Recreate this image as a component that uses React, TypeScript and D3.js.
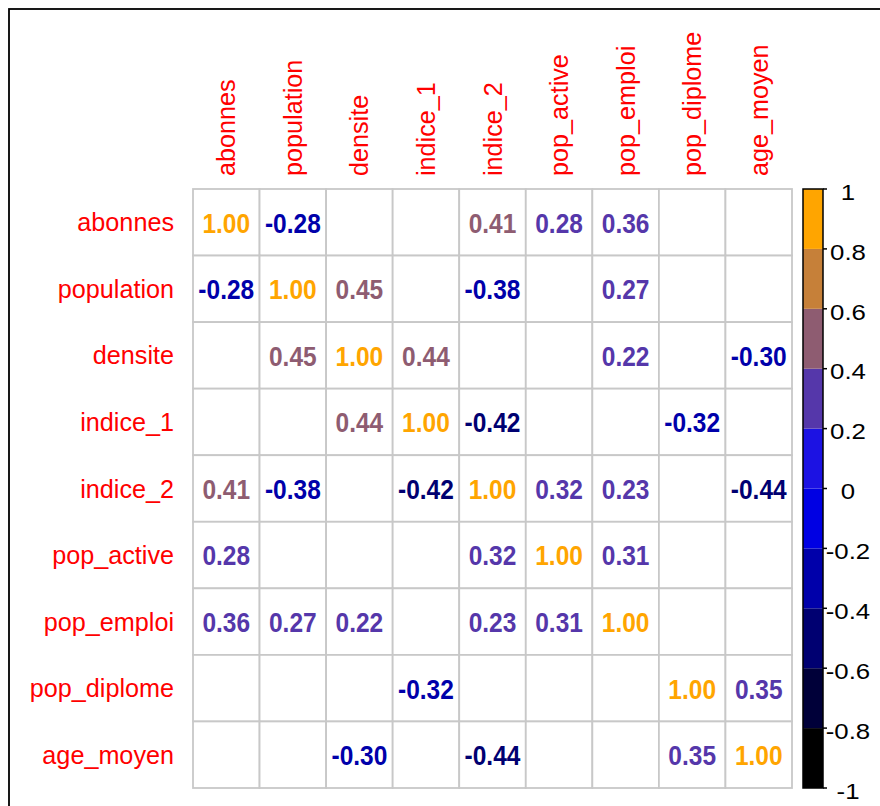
import React from "react";
import * as d3 from "d3";

const variables = ["abonnes", "population", "densite", "indice_1", "indice_2", "pop_active", "pop_emploi", "pop_diplome", "age_moyen"];

const values: (number | null)[][] = [
  [1.0, -0.28, null, null, 0.41, 0.28, 0.36, null, null],
  [-0.28, 1.0, 0.45, null, -0.38, null, 0.27, null, null],
  [null, 0.45, 1.0, 0.44, null, null, 0.22, null, -0.3],
  [null, null, 0.44, 1.0, -0.42, null, null, -0.32, null],
  [0.41, -0.38, null, -0.42, 1.0, 0.32, 0.23, null, -0.44],
  [0.28, null, null, null, 0.32, 1.0, 0.31, null, null],
  [0.36, 0.27, 0.22, null, 0.23, 0.31, 1.0, null, null],
  [null, null, null, -0.32, null, null, null, 1.0, 0.35],
  [null, null, -0.3, null, -0.44, null, null, 0.35, 1.0],
];

const legendTicks = [1, 0.8, 0.6, 0.4, 0.2, 0, -0.2, -0.4, -0.6, -0.8, -1];
const legendTickLabels = ["1", "0.8", "0.6", "0.4", "0.2", "0", "-0.2", "-0.4", "-0.6", "-0.8", "-1"];

const rampStops = ["black", "blue", "orange"];
const nBins = 10;

export default function App() {
  const W = 880;
  const H = 806;
  const gx0 = 193;
  const gy0 = 189;
  const gSize = 599;

  const x = d3.scaleBand<string>().domain(variables).range([gx0, gx0 + gSize]).padding(0);
  const y = d3.scaleBand<string>().domain(variables).range([gy0, gy0 + gSize]).padding(0);
  const cell = x.bandwidth();

  const ramp = d3.scaleLinear<string>().domain([0, 0.5, 1]).range(rampStops).interpolate(d3.interpolateRgb);
  const palette = d3.range(nBins).map((i) => d3.color(ramp(i / (nBins - 1)))!.formatHex());
  const colorOf = d3.scaleQuantize<string>().domain([-1, 1]).range(palette);

  const barX = 803;
  const barW = 20;
  const yLeg = d3.scaleLinear().domain([-1, 1]).range([gy0 + gSize, gy0]);
  const bins = d3.range(nBins).map((i) => ({ lo: -1 + i * 0.2, hi: -1 + (i + 1) * 0.2, c: palette[i] }));

  const font = "'Liberation Sans', Arial, sans-serif";

  return (
    <div style={{ position: "absolute", left: 0, top: 0, width: W, height: H, background: "#fff" }}>
      <svg width={W} height={H} style={{ display: "block" }}>
        <rect x={0} y={0} width={W} height={H} fill="#fff" />
        <rect x={9} y={9} width={W + 20} height={H + 20} fill="none" stroke="#000" strokeWidth={1.8} />

        {/* cells */}
        {variables.map((rv) =>
          variables.map((cv) => (
            <rect key={rv + cv} x={x(cv)} y={y(rv)} width={cell} height={cell} fill="#fff" stroke="#c8c8c8" strokeWidth={1.8} />
          ))
        )}

        {/* numbers */}
        {values.map((row, ri) =>
          row.map((v, ci) =>
            v === null ? null : (
              <text
                key={ri + "-" + ci}
                transform={`translate(${x(variables[ci])! + cell / 2},${y(variables[ri])! + cell / 2 + 1}) scale(1,1.1)`}
                textAnchor="middle"
                dominantBaseline="central"
                fontFamily={font}
                fontWeight="bold"
                fontSize={24.5}
                fill={colorOf(v)}
              >
                {v.toFixed(2)}
              </text>
            )
          )
        )}

        {/* row labels */}
        {variables.map((v) => (
          <text key={"r" + v} x={gx0 - 19} y={y(v)! + cell / 2} textAnchor="end" dominantBaseline="central" fontFamily={font} fontSize={25.2} fill="#ff0000">
            {v}
          </text>
        ))}

        {/* column labels */}
        {variables.map((v) => (
          <text
            key={"c" + v}
            transform={`translate(${x(v)! + cell / 2},${gy0 - 13}) rotate(-90)`}
            textAnchor="start"
            dominantBaseline="central"
            fontFamily={font}
            fontSize={25.2}
            fill="#ff0000"
          >
            {v}
          </text>
        ))}

        {/* color legend */}
        {bins.map((b, i) => (
          <rect key={"b" + i} x={barX} y={yLeg(b.hi)} width={barW} height={yLeg(b.lo) - yLeg(b.hi)} fill={b.c} stroke="none" />
        ))}
        <rect x={barX} y={gy0} width={barW} height={gSize} fill="none" stroke="#000" strokeWidth={1.5} />
        {legendTicks.map((t, i) => (
          <g key={"t" + i}>
            <line x1={barX + barW} x2={barX + barW + 4} y1={yLeg(t)} y2={yLeg(t)} stroke="#000" strokeWidth={1.5} />
            <text
              transform={`translate(848,${yLeg(t) + 3.5}) scale(1.2,1)`}
              textAnchor="middle"
              dominantBaseline="central"
              fontFamily={font}
              fontSize={21.5}
              fill="#000"
            >
              {legendTickLabels[i]}
            </text>
          </g>
        ))}
      </svg>
    </div>
  );
}
